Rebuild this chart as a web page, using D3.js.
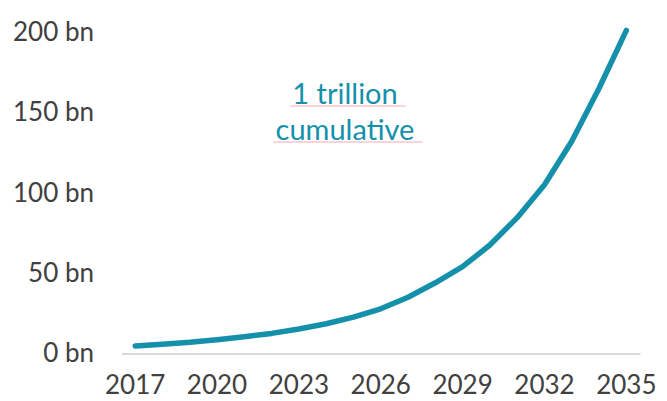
<!DOCTYPE html>
<html>
<head>
<meta charset="utf-8">
<script src="https://cdn.jsdelivr.net/npm/d3@7"></script>
<style>
  body { margin: 0; background: #fff; }
  svg { display: block; font-family: Lato, "Open Sans", sans-serif; }
</style>
</head>
<body>
<svg id="drawspace" width="667" height="401"></svg>
<script>
// Values (billions per year)
const years = d3.range(2017, 2036);
const values = [4.7, 5.8, 7.0, 8.6, 10.4, 12.5, 15.2, 18.5, 22.6, 27.8,
                35.0, 44.0, 54.0, 67.5, 84.5, 105, 132, 165, 201];
const yTicks = [0, 50, 100, 150, 200];
const xTicks = [2017, 2020, 2023, 2026, 2029, 2032, 2035];
const noteLines = ["1 trillion", "cumulative"];

let drawSpace = d3.select("#drawspace");

const teal = "#1590ab";
const grey = "#404040";

// category axis: points sit in the middle of each band
let xScale = d3.scaleBand().domain(years).range([121.5, 640]).padding(0);
let yScale = d3.scaleLinear().domain([0, 200]).range([353.5, 32]);
let xMid = (yr) => xScale(yr) + xScale.bandwidth() / 2;

// y axis labels, no line
let yAxis = d3.axisLeft(yScale)
  .tickValues(yTicks)
  .tickSize(0)
  .tickPadding(0)
  .tickFormat((d) => d + " bn");

drawSpace.append("g")
  .attr("transform", "translate(94,0)")
  .call(yAxis)
  .call((g) => g.select(".domain").remove())
  .selectAll("text")
  .attr("font-size", 26)
  .attr("font-family", "Lato, sans-serif")
  .attr("fill", grey);

// x axis with light baseline
let xAxis = d3.axisBottom(xScale)
  .tickValues(xTicks)
  .tickSize(0)
  .tickPadding(22.5);

let gx = drawSpace.append("g")
  .attr("transform", `translate(0,${yScale(0)})`)
  .call(xAxis);
gx.select(".domain").attr("stroke", "#d9d9d9").attr("stroke-width", 2);
gx.selectAll("text")
  .attr("font-size", 26)
  .attr("font-family", "Lato, sans-serif")
  .attr("fill", grey);

// the curve
let line = d3.line()
  .x((d, i) => xMid(years[i]))
  .y((d) => yScale(d));

drawSpace.append("path")
  .datum(values)
  .attr("d", line)
  .attr("fill", "none")
  .attr("stroke", teal)
  .attr("stroke-width", 5.5)
  .attr("stroke-linecap", "round")
  .attr("stroke-linejoin", "round");

// annotation
let note = drawSpace.append("g");
noteLines.forEach((t, i) => {
  let txt = note.append("text")
    .attr("x", 345)
    .attr("y", 104 + i * 36)
    .attr("text-anchor", "middle")
    .attr("font-size", 29)
    .attr("font-family", "Lato, sans-serif")
    .attr("fill", teal)
    .text(t);
  let bb = txt.node().getBBox();
  // faint pink underline like in the original
  note.append("line")
    .attr("x1", bb.x - 2)
    .attr("x2", bb.x + bb.width + 8)
    .attr("y1", 106 + i * 36)
    .attr("y2", 106 + i * 36)
    .attr("stroke", "#f7a9b6")
    .attr("stroke-width", 1);
});
</script>
</body>
</html>
